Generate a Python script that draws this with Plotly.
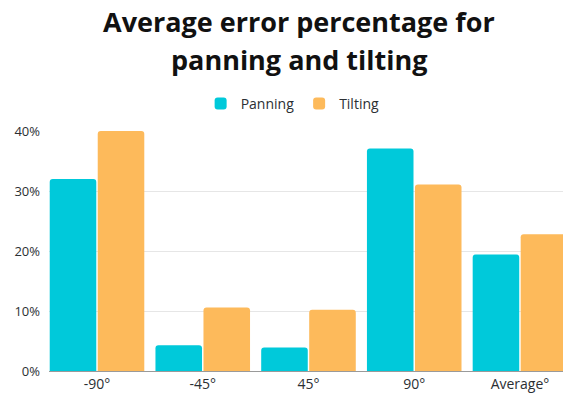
import plotly.graph_objects as go

categories = ["-90°", "-45°", "45°", "90°", "Average°"]
panning = [32.0, 4.3, 3.9, 37.1, 19.4]
tilting = [40.0, 10.6, 10.2, 31.1, 22.8]
y_ticks = [0, 10, 20, 30, 40]
y_tick_labels = ["0%", "10%", "20%", "30%", "40%"]
title_lines = ["Average error percentage for", "panning and tilting"]

TEAL = "#00C9DA"
ORANGE = "#FDBA5B"
TEXT = "#2b2f33"
FONT = "Open Sans"

fig = go.Figure()
fig.add_trace(go.Bar(name="Panning", x=categories, y=panning,
                     marker=dict(color=TEAL, cornerradius=3, line=dict(width=0))))
fig.add_trace(go.Bar(name="Tilting", x=categories, y=tilting,
                     marker=dict(color=ORANGE, cornerradius=3, line=dict(width=0))))

for txt, yp in zip(title_lines, [1.457, 1.298]):
    fig.add_annotation(text="<b>" + txt + "</b>", xref="paper", yref="paper",
                       x=(299 - 49) / 514, y=yp, xanchor="center", yanchor="middle",
                       showarrow=False,
                       font=dict(family=FONT, size=27, color="#111111"))

fig.update_layout(
    width=563, height=396,
    margin=dict(l=49, r=0, t=131, b=25),
    paper_bgcolor="white", plot_bgcolor="white",
    barmode="group", bargap=0.092, bargroupgap=0.03,
    legend=dict(orientation="h", x=0.474, xanchor="center", y=1.1125, yanchor="middle",
                font=dict(family=FONT, size=14, color=TEXT), itemwidth=30,
                traceorder="normal"),
    xaxis=dict(range=[-0.454, 4.407], showgrid=False, showline=True,
               linecolor="#9a9a9a", linewidth=1, ticks="",
               tickfont=dict(family=FONT, size=14, color=TEXT)),
    yaxis=dict(range=[0, 40], tickvals=y_ticks, ticktext=y_tick_labels,
               showgrid=True, gridcolor="#e6e6e6", gridwidth=1, zeroline=False,
               ticklabelstandoff=8,
               tickfont=dict(family=FONT, size=13, color=TEXT)),
    font=dict(family=FONT, color=TEXT),
)

fig.write_html("out.html")
